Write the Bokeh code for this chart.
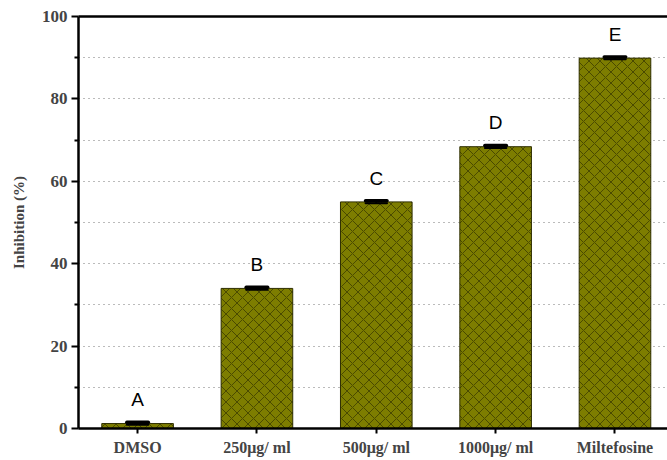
from bokeh.plotting import figure
from bokeh.models import (ColumnDataSource, FixedTicker, LinearAxis, Range1d)
from bokeh.core.properties import value
from bokeh.embed import file_html
from bokeh.resources import INLINE

# Inhibition by treatment group
groups = ["DMSO", "250\u03bcg/ ml", "500\u03bcg/ ml", "1000\u03bcg/ ml", "Miltefosine"]
inhibition = [1.2, 34.0, 55.0, 68.4, 89.9]
errors = [0.3, 0.3, 0.3, 0.3, 0.3]
letters = ["A", "B", "C", "D", "E"]
y_ticks = [0, 20, 40, 60, 80, 100]
y_minor = [10, 30, 50, 70, 90]
grid_levels = [10, 20, 30, 40, 50, 60, 70, 80, 90]

xs = list(range(1, len(groups) + 1))
src = ColumnDataSource(dict(
    x=xs, top=inhibition, lo=[v - e for v, e in zip(inhibition, errors)],
    hi=[v + e for v, e in zip(inhibition, errors)], letter=letters,
))

p = figure(width=667, height=460, output_backend="svg", toolbar_location=None,
           x_range=Range1d(0.505, 5.44), y_range=Range1d(0, 100),
           min_border_left=78, min_border_right=0, min_border_top=16,
           min_border_bottom=32)
p.outline_line_color = None
p.background_fill_color = "white"
p.border_fill_color = "white"

p.vbar(x="x", top="top", bottom=0, width=0.6, source=src,
       fill_color="#7d7d00", line_color="#2e2e00", line_width=1,
       hatch_pattern="diagonal_cross", hatch_color="#3c3c00",
       hatch_scale=11, hatch_weight=0.8)

# error bars
p.segment(x0="x", x1="x", y0="lo", y1="hi", source=src, line_color="black", line_width=2)
src.data["cl"] = [x - 0.09 for x in xs]
src.data["cr"] = [x + 0.09 for x in xs]
p.segment(x0="cl", x1="cr", y0="hi", y1="hi", source=src,
          line_color="black", line_width=3.5, line_cap="round")
p.segment(x0="cl", x1="cr", y0="lo", y1="lo", source=src,
          line_color="black", line_width=2, line_cap="round")

p.text(x="x", y="hi", text="letter", source=src, text_align="center",
       text_baseline="bottom", y_offset=-12, text_font=value("Liberation Sans"),
       text_font_size="19px", text_color="black")

# axes
ya = p.yaxis[0]
ya.ticker = FixedTicker(ticks=y_ticks, minor_ticks=y_minor)
ya.axis_line_width = 2.5
ya.major_tick_line_width = 2
ya.minor_tick_line_width = 2
ya.major_tick_out = 7
ya.major_tick_in = 0
ya.minor_tick_out = 4
ya.minor_tick_in = 0
ya.major_label_text_font = "Liberation Serif"
ya.major_label_text_font_style = "bold"
ya.major_label_text_font_size = "17px"
ya.major_label_standoff = 4
ya.axis_label = "Inhibition (%)"
ya.axis_label_text_font = "Liberation Serif"
ya.axis_label_text_font_style = "bold"
ya.axis_label_text_font_size = "15px"
ya.axis_label_standoff = 12

xa = p.xaxis[0]
xa.ticker = FixedTicker(ticks=xs, minor_ticks=[])
xa.major_label_overrides = {x: g for x, g in zip(xs, groups)}
xa.axis_line_width = 2.5
xa.major_tick_line_width = 2
xa.major_tick_out = 5
xa.major_tick_in = 0
xa.minor_tick_line_color = None
xa.major_label_text_font = "Liberation Serif"
xa.major_label_text_font_style = "bold"
xa.major_label_text_font_size = "16px"
xa.major_label_standoff = 5

top_axis = LinearAxis(ticker=FixedTicker(ticks=[]), axis_line_width=2.5,
                      major_label_text_font_size="0px", major_tick_line_color=None,
                      minor_tick_line_color=None)
p.add_layout(top_axis, "above")

p.xgrid.grid_line_color = None
p.ygrid.ticker = FixedTicker(ticks=grid_levels)
p.ygrid.grid_line_color = "#777777"
p.ygrid.grid_line_dash = "1 4"
p.ygrid.grid_line_width = 1

open("out.html", "w").write(file_html(p, INLINE))
